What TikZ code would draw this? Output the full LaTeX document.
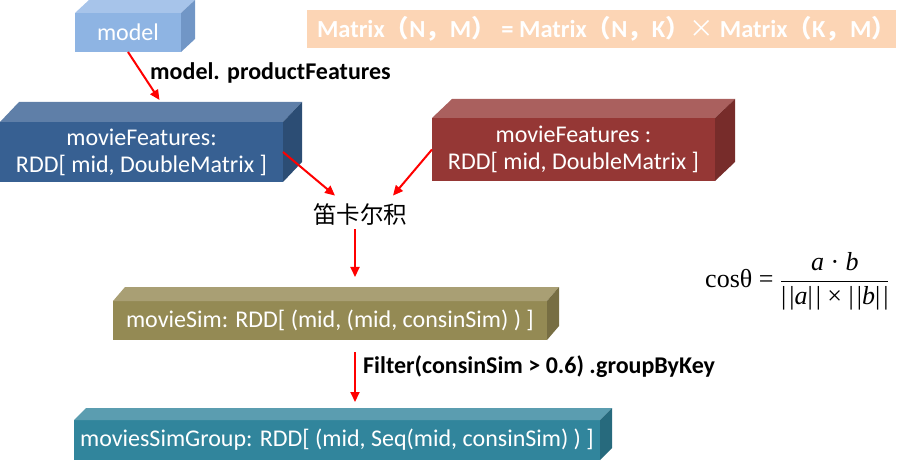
\documentclass[tikz,border=0pt]{standalone}
\usepackage{fontspec}
\setmainfont{Carlito}
\newfontfamily\cjk{Noto Sans CJK SC}
\newfontfamily\tnr{Liberation Serif}
\usepackage{tikz}
\usetikzlibrary{arrows.meta}

\definecolor{modelF}{HTML}{8EB4E3}\definecolor{modelT}{HTML}{A7C4EA}\definecolor{modelS}{HTML}{7196C6}
\definecolor{featF}{HTML}{376092}\definecolor{featT}{HTML}{5F7FA8}\definecolor{featS}{HTML}{2C4D74}
\definecolor{featrF}{HTML}{953735}\definecolor{featrT}{HTML}{AA605E}\definecolor{featrS}{HTML}{772C2A}
\definecolor{simF}{HTML}{948A54}\definecolor{simT}{HTML}{A99F74}\definecolor{simS}{HTML}{776E43}
\definecolor{grpF}{HTML}{31859C}\definecolor{grpT}{HTML}{5B9DB0}\definecolor{grpS}{HTML}{276A7D}
\definecolor{matF}{HTML}{FCD5B5}

% top and right faces of a 3-D block: node, dx, dy, top colour, side colour
\newcommand{\cuboid}[5]{%
  \fill[#4] (#1.north west) -- ([xshift=#2pt,yshift=#3pt]#1.north west)
    -- ([xshift=#2pt,yshift=#3pt]#1.north east) -- (#1.north east) -- cycle;
  \fill[#5] (#1.north east) -- ([xshift=#2pt,yshift=#3pt]#1.north east)
    -- ([xshift=#2pt,yshift=#3pt]#1.south east) -- (#1.south east) -- cycle;}
\newcommand{\fw}[1]{{\cjk #1}}
\newcommand{\nrm}[1]{|\kern3pt|\itshape #1\upshape|\kern3pt|}

\begin{document}
\begin{tikzpicture}[
  x=1pt, y=-1pt,
  font=\fontsize{24}{27}\selectfont,
  block/.style={anchor=north west, inner sep=0pt, outer sep=0pt, align=center, text=white},
  lbl/.style  ={anchor=west, inner sep=0pt, font=\fontsize{24}{27}\selectfont\bfseries},
  arr/.style  ={-{Triangle[length=10pt,width=9pt]}, line width=2pt, red}
]
\useasboundingbox (0,0) rectangle (915,462);

% ---- blocks ----
\node[block, fill=modelF, minimum width=106pt, minimum height=39pt] (model) at (75,13) {model};
\cuboid{model}{14}{13}{modelT}{modelS}

\node[block, fill=featF, minimum width=283pt, minimum height=60pt] (featL) at (0,122)
  {movieFeatures:\\RDD[ mid, DoubleMatrix ]};
\cuboid{featL}{19}{20}{featT}{featS}

\node[block, fill=featrF, minimum width=283pt, minimum height=63pt] (featR) at (432,118)
  {movieFeatures :\\RDD[ mid, DoubleMatrix ]};
\cuboid{featR}{20}{19}{featrT}{featrS}

\node[block, fill=simF, minimum width=434pt, minimum height=39pt] (sim) at (113,301)
  {movieSim: RDD[ (mid, (mid, consinSim) ) ]};
\cuboid{sim}{12}{14}{simT}{simS}

\node[block, fill=grpF, minimum width=526pt, minimum height=40pt] (grp) at (74,420)
  {moviesSimGroup: RDD[ (mid, Seq(mid, consinSim) ) ]};
\cuboid{grp}{12}{12}{grpT}{grpS}

% ---- texts ----
\node[block, fill=matF, minimum width=588pt, minimum height=38pt, font=\fontsize{24.5}{28}\selectfont\bfseries] (mateq) at (307,10)
  {\hspace*{10pt}Matrix\fw{（}N\fw{，}M\fw{）} = Matrix\fw{（}N\fw{，}K\fw{）}{\cjk\mdseries ×} Matrix\fw{（}K\fw{，}M\fw{）}};

\node[font=\cjk\fontsize{23.5}{28}\selectfont] (prod) at (360,215) {笛卡尔积};

\node[anchor=west, inner sep=0pt, font=\tnr\fontsize{26}{30}\selectfont] (cosf) at (705,281)
  {cosθ = $\displaystyle\frac{\mbox{\itshape a\upshape\ · \itshape b}}{\mbox{\nrm{a}\ ×\ \nrm{b}}}$};

\node[lbl] (pfeat) at (150,73) {model. productFeatures};
\node[lbl] (filt) at (363,367) {Filter(consinSim > 0.6) .groupByKey};

% ---- arrows ----
\draw[arr] (model.south) -- ([xshift=18pt,yshift=22pt]featL.north);
\draw[arr] (featL.east) -- ([xshift=-25pt,yshift=5pt]prod.north);
\draw[arr] (featR.west) -- ([xshift=33pt,yshift=5pt]prod.north);
\draw[arr] ([xshift=-5pt]prod.south) -- ([xshift=25pt,yshift=24pt]sim.north);
\draw[arr] ([xshift=25pt,yshift=-12pt]sim.south) -- ([xshift=18pt,yshift=18pt]grp.north);

\end{tikzpicture}
\end{document}
